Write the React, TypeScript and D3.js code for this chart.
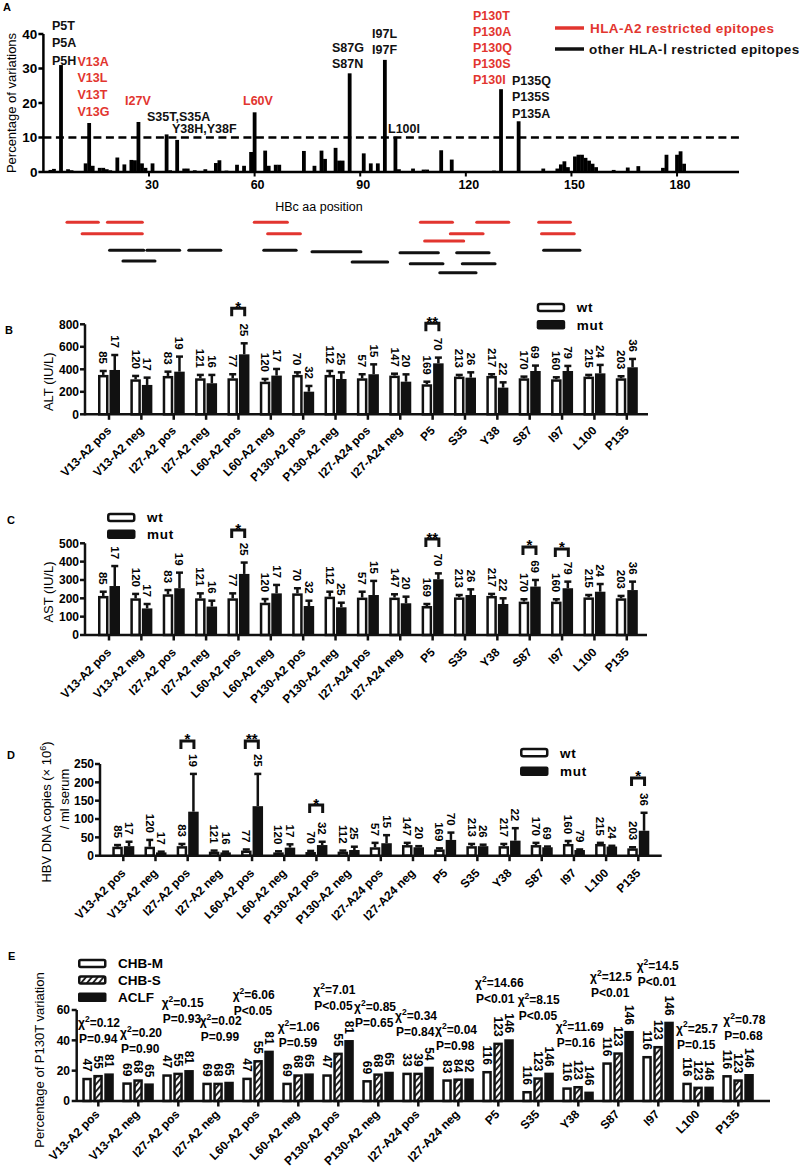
import React from "react";
import * as d3 from "d3";

const FF = "'Liberation Sans', Arial, Helvetica, sans-serif";
const RED = "#e2352f";

// ---------------- Panel A data ----------------
// [HBc aa position, percentage of variations]
const variationData: [number, number][] = [
  [1, 0.3], [2, 0.6], [3, 0.9], [5, 31], [7, 0.8], [8, 0.5], [12, 2.5], [13, 14.2], [14, 1.8],
  [16, 1.2], [17, 1.2], [18, 0.8], [19, 0.5], [21, 4.2], [23, 2.2], [25, 3.5], [26, 3.4],
  [27, 14.5], [28, 2.5], [29, 1.2], [31, 2.5], [35, 10.9], [36, 0.5], [38, 9.3], [40, 1],
  [41, 1], [43, 0.5], [46, 0.8], [49, 2.6], [50, 3.4], [52, 0.4], [55, 2.1], [57, 1.8],
  [59, 5.8], [60, 17.3], [63, 6.2], [64, 1.8], [66, 2.1], [67, 2.1], [74, 6.1], [77, 1.8],
  [79, 6.2], [80, 3.8], [83, 7], [84, 3.3], [85, 3.3], [87, 28.6], [91, 5.4], [93, 2.5],
  [95, 2.5], [97, 32.5], [100, 10.2], [101, 0.8], [105, 1], [108, 0.7], [109, 0.7],
  [113, 6.3], [116, 3.6], [118, 0.3], [128, 0.4], [130, 24], [135, 14.7], [142, 1],
  [146, 1], [147, 2.2], [148, 3.1], [149, 1.4], [151, 4.5], [152, 5], [153, 5], [154, 4.1],
  [155, 3.3], [156, 2.4], [157, 1.4], [162, 0.6], [166, 1.3], [169, 1.7], [176, 1.2],
  [177, 5], [180, 5], [181, 6], [182, 2.4],
];
const aTicksY = [0, 10, 20, 30, 40];
const aTicksX = [30, 60, 90, 120, 150, 180];
const threshold = 10;

// mutation labels: lines, colour
const mutLabels: { lines: string[]; red: boolean }[] = [
  { lines: ["P5T", "P5A", "P5H"], red: false },
  { lines: ["V13A", "V13L", "V13T", "V13G"], red: true },
  { lines: ["I27V"], red: true },
  { lines: ["S35T,S35A"], red: false },
  { lines: ["Y38H,Y38F"], red: false },
  { lines: ["L60V"], red: true },
  { lines: ["S87G", "S87N"], red: false },
  { lines: ["I97L", "I97F"], red: false },
  { lines: ["L100I"], red: false },
  { lines: ["P130T", "P130A", "P130Q", "P130S", "P130I"], red: true },
  { lines: ["P135Q", "P135S", "P135A"], red: false },
];
// layout of those labels (x start, first line centre y, line step)
const mutLabelLayout: [number, number, number][] = [
  [52, 25, 17.5], [77.5, 61, 16.7], [125, 100, 0], [147, 116.5, 0], [172, 128.5, 0],
  [243, 100, 0], [332, 47, 16], [372, 33, 16.5], [388, 128, 0], [473, 15, 16], [512, 80, 16.5],
];

// epitope segments [start aa, end aa, row]
const a2Epitopes: [number, number, number][] = [
  [6.7, 15.6, 0], [18.2, 28.1, 0], [59.9, 69.3, 0], [107.1, 116.2, 0], [123.1, 132.2, 0], [140.7, 149.7, 0],
  [11, 28.1, 1], [63.7, 73, 1], [115.6, 124.9, 1], [141.5, 150.8, 1],
  [108.3, 119.4, 2],
];
const otherEpitopes: [number, number, number][] = [
  [18.8, 28.5, 0], [29.4, 38.7, 0], [41.3, 50.4, 0], [62.6, 71.8, 0], [142.1, 152.4, 0],
  [76.3, 90.2, 1], [101.3, 112.2, 2], [117.4, 126.6, 2],
  [22.6, 31.7, 3], [87.7, 97.8, 4], [104.2, 113.5, 5], [119, 128.3, 5],
  [112.6, 122.9, 6],
];
const a2RowY = [222.3, 233.7, 241];
const otherRowY = [250.3, 251.7, 252.7, 261, 262, 263.7, 272.7];

// ---------------- Panels B-E data ----------------
const categories = [
  "V13-A2 pos", "V13-A2 neg", "I27-A2 pos", "I27-A2 neg", "L60-A2 pos", "L60-A2 neg",
  "P130-A2 pos", "P130-A2 neg", "I27-A24 pos", "I27-A24 neg", "P5", "S35", "Y38", "S87",
  "I97", "L100", "P135",
];
const nWt = [85, 120, 83, 121, 77, 120, 70, 112, 57, 147, 169, 213, 217, 170, 160, 215, 203];
const nMut = [17, 17, 19, 16, 25, 17, 32, 25, 15, 20, 70, 26, 22, 69, 79, 24, 36];

const altWt = [350, 311, 341, 320, 320, 290, 350, 350, 320, 344, 267, 335, 341, 320, 311, 335, 320];
const altWtErr = [385, 341, 379, 350, 356, 314, 373, 385, 356, 361, 290, 350, 356, 335, 329, 350, 338];
const altMut = [394, 261, 379, 276, 533, 344, 201, 314, 356, 290, 453, 326, 237, 385, 385, 364, 418];
const altMutErr = [527, 326, 513, 350, 631, 403, 252, 373, 444, 355, 504, 373, 284, 433, 430, 439, 492];
const altTicks = [0, 200, 400, 600, 800];
const altSig: [string, string, number][] = [["L60-A2 pos", "*", 942], ["P5", "**", 809]];

const astWt = [213, 200, 222, 200, 200, 176, 227, 209, 204, 204, 158, 205, 213, 182, 182, 205, 200];
const astWtErr = [236, 224, 245, 227, 227, 196, 255, 236, 236, 222, 169, 218, 224, 195, 195, 218, 213];
const astMut = [267, 145, 255, 155, 333, 227, 158, 151, 218, 173, 304, 218, 169, 264, 255, 236, 245];
const astMutErr = [376, 169, 340, 187, 395, 273, 187, 176, 295, 209, 336, 249, 200, 300, 291, 278, 291];
const astTicks = [0, 100, 200, 300, 400, 500];
const astSig: [string, string, number][] = [["L60-A2 pos", "*", 572], ["P5", "**", 523], ["S87", "*", 480], ["I97", "*", 469]];

const dnaWt = [24.5, 24.5, 26, 11, 14, 9, 10, 11, 23, 29, 17, 26, 26, 29, 32, 32, 20];
const dnaWtErr = [29, 43, 32, 14, 17, 12, 13, 14, 35, 35, 20, 32, 32, 35, 40, 35, 23];
const dnaMut = [26, 9, 120, 9, 135, 22, 29, 15.5, 34, 23, 43, 26, 41, 23, 15.5, 25, 68];
const dnaMutErr = [38, 11, 223, 11, 223, 31, 38, 24.5, 56, 26, 63, 30, 75, 25, 17, 27, 117];
const dnaTicks = [0, 50, 100, 150, 200, 250];
const dnaSig: [string, string, number][] = [["I27-A2 pos", "*", 313], ["L60-A2 pos", "**", 313], ["P130-A2 pos", "*", 138], ["P135", "*", 212]];

const groupsE = ["CHB-M", "CHB-S", "ACLF"];
const pctM = [15.3, 12.3, 17.6, 12.1, 15.4, 12.1, 17.6, 13.8, 18.7, 14.3, 19.8, 6.6, 9, 25.5, 29.7, 12.1, 17.1];
const pctS = [17.2, 14.3, 18.7, 12.1, 27, 17.6, 31.9, 18.2, 18.7, 14.9, 38.5, 15.6, 9.9, 32.1, 36.3, 9.5, 14.3];
const pctA = [18.2, 11.6, 20.4, 12.7, 33.2, 18.2, 40.2, 19.3, 22.6, 14.9, 40.7, 18.7, 6.2, 46.2, 52.3, 9.5, 17.8];
const nM = [47, 69, 47, 69, 47, 69, 47, 69, 33, 83, 116, 116, 116, 116, 116, 116, 116];
const nS = [55, 68, 55, 68, 55, 68, 55, 68, 39, 84, 123, 123, 123, 123, 123, 123, 123];
const nA = [81, 65, 81, 65, 81, 65, 81, 65, 54, 92, 146, 146, 146, 146, 146, 146, 146];
const chiSq = ["0.12", "0.20", "0.15", "0.02", "6.06", "1.06", "7.01", "0.85", "0.34", "0.04", "14.66", "8.15", "11.69", "12.5", "14.5", "25.7", "0.78"];
const pText = ["P=0.94", "P=0.90", "P=0.93", "P=0.99", "P<0.05", "P=0.59", "P<0.05", "P=0.65", "P=0.84", "P=0.98", "P<0.01", "P<0.05", "P=0.16", "P<0.01", "P<0.01", "P=0.15", "P=0.68"];
// annotation layout: x offset from category centre, y of chi line
const chiLayout: [number, number][] = [
  [-20.3, 1022.7], [-18.3, 1032.7], [-16.6, 1002.7], [-18.6, 1021], [-25.6, 995], [-20.6, 1026.7],
  [-25, 990], [-24.3, 1007], [-23.3, 1015.7], [-23.3, 1030], [-23.3, 982.7], [-20.6, 1000],
  [-22.6, 1026.7], [-28.3, 976.7], [-21.6, 966], [-22.3, 1028.3], [-15, 1020],
];
const eTicks = [0, 20, 40, 60];

// ---------------------------------------------------------------
const bold = { fontFamily: FF, fontWeight: 700 } as const;

function PanelA() {
  const x = d3.scaleLinear().domain([0, 197.6]).range([43.4, 739]);
  const y = d3.scaleLinear().domain([0, 40]).range([172, 34]);
  return (
    <g>
      <text x={3} y={10.5} fontSize={11} {...bold}>A</text>
      {variationData.map(([p, v]) => (
        <rect key={p} x={x(p) - 1.9} y={y(v)} width={3.8} height={y(0) - y(v)} fill="#000" />
      ))}
      <line x1={x(0)} x2={x(197.6)} y1={y(threshold)} y2={y(threshold)} stroke="#000" strokeWidth={2.5} strokeDasharray="8 4.5" />
      <line x1={x(0)} x2={x(197.6)} y1={y(0)} y2={y(0)} stroke="#000" strokeWidth={2.5} />
      <line x1={x(0)} x2={x(0)} y1={y(0) + 1} y2={y(40)} stroke="#000" strokeWidth={2.5} />
      {aTicksY.map((t) => (
        <g key={t}>
          <line x1={x(0) - 5} x2={x(0)} y1={y(t)} y2={y(t)} stroke="#000" strokeWidth={2.5} />
          <text x={x(0) - 6} y={y(t)} dy="0.36em" textAnchor="end" fontSize={13.5} {...bold}>{t}</text>
        </g>
      ))}
      {aTicksX.map((t) => (
        <g key={t}>
          <line x1={x(t)} x2={x(t)} y1={y(0)} y2={y(0) + 4.5} stroke="#000" strokeWidth={2} />
          <text x={x(t) + 3} y={189} textAnchor="middle" fontSize={12.5} {...bold}>{t}</text>
        </g>
      ))}
      <text transform={`translate(16,${103}) rotate(-90)`} textAnchor="middle" fontSize={13} fontFamily={FF}>Percentage of variations</text>
      <text x={319} y={210.5} textAnchor="middle" fontSize={12.5} fontFamily={FF}>HBc aa position</text>
      {mutLabels.map((m, i) => {
        const [lx, ly, step] = mutLabelLayout[i];
        return m.lines.map((s, j) => (
          <text key={i + "-" + j} x={lx} y={ly + j * step} dy="0.36em" fontSize={12.5} {...bold} fill={m.red ? RED : "#111"}>{s}</text>
        ));
      })}
      {/* legend */}
      <line x1={555} x2={584} y1={28} y2={28} stroke={RED} strokeWidth={3.5} />
      <text x={590} y={28} dy="0.36em" fontSize={13.5} {...bold} fill={RED} letterSpacing={0.4}>HLA-A2 restricted epitopes</text>
      <line x1={555} x2={584} y1={49} y2={49} stroke="#111" strokeWidth={3.5} />
      <text x={589} y={49} dy="0.36em" fontSize={13.5} {...bold} fill="#111" letterSpacing={0.4}>other HLA-Ⅰ restricted epitopes</text>
      {/* epitopes */}
      {a2Epitopes.map(([s, e, r], i) => (
        <line key={"r" + i} x1={x(s)} x2={x(e)} y1={a2RowY[r]} y2={a2RowY[r]} stroke={RED} strokeWidth={3} strokeLinecap="round" />
      ))}
      {otherEpitopes.map(([s, e, r], i) => (
        <line key={"b" + i} x1={x(s)} x2={x(e)} y1={otherRowY[r]} y2={otherRowY[r]} stroke="#111" strokeWidth={3} strokeLinecap="round" />
      ))}
    </g>
  );
}

type WMProps = {
  letter: string;
  letterY: number;
  axisX: number;
  axisEnd: number;
  catRange: [number, number];
  yRange: [number, number];
  max: number;
  ticks: number[];
  wt: number[];
  wtErr: number[];
  mut: number[];
  mutErr: number[];
  sig: [string, string, number][];
  legend: [number, number, number];
  ylabel: React.ReactNode;
  labelOffset: number;
};

function Legend2({ x, y1, y2 }: { x: number; y1: number; y2: number }) {
  return (
    <g>
      <rect x={x + 1.25} y={y1 - 3.6} width={26} height={7.2} rx={2} fill="#fff" stroke="#111" strokeWidth={2.5} />
      <rect x={x} y={y2 - 4.8} width={28.5} height={9.6} rx={2} fill="#111" />
      <text x={x + 40} y={y1} dy="0.36em" fontSize={13.5} {...bold} letterSpacing={0.8}>wt</text>
      <text x={x + 40} y={y2} dy="0.36em" fontSize={13.5} {...bold} letterSpacing={0.8}>mut</text>
    </g>
  );
}

function WtMutPanel(p: WMProps) {
  const x = d3.scalePoint<string>().domain(categories).range(p.catRange);
  const y = d3.scaleLinear().domain([0, p.max]).range(p.yRange);
  const y0 = y(0);
  const bw = 10.5;
  const bars = categories.map((c, i) => {
    const cx = x(c)!;
    return { c, i, cx, wx: cx - 11, mx: cx + 0.5 };
  });
  return (
    <g>
      <text x={p.letter === "B" ? 5 : 7} y={p.letterY} fontSize={11} {...bold}>{p.letter}</text>
      {bars.map(({ c, i, cx, wx, mx }) => {
        const wTop = y(p.wt[i]);
        const wE = y(p.wtErr[i]);
        const mTop = y(p.mut[i]);
        const mE = y(p.mutErr[i]);
        const wc = wx + bw / 2;
        const mc = mx + bw / 2;
        return (
          <g key={c}>
            <line x1={wc} x2={wc} y1={wTop} y2={wE} stroke="#111" strokeWidth={2.5} />
            <line x1={wc - 3.5} x2={wc + 3.5} y1={wE} y2={wE} stroke="#111" strokeWidth={2.5} />
            <rect x={wx + 1.25} y={wTop + 1.25} width={bw - 2.5} height={Math.max(0, y0 - wTop - 1.25)} fill="#fff" stroke="#111" strokeWidth={2.5} />
            <line x1={mc} x2={mc} y1={mTop} y2={mE} stroke="#111" strokeWidth={2.5} />
            <line x1={mc - 3.5} x2={mc + 3.5} y1={mE} y2={mE} stroke="#111" strokeWidth={2.5} />
            <rect x={mx} y={mTop} width={bw} height={y0 - mTop} fill="#111" />
            <text transform={`translate(${wc - 4},${wE - 7}) rotate(90)`} textAnchor="end" fontSize={11.5} {...bold}>{nWt[i]}</text>
            <text transform={`translate(${mc - 4},${mE - 7}) rotate(90)`} textAnchor="end" fontSize={11.5} {...bold}>{nMut[i]}</text>
            <line x1={cx} x2={cx} y1={y0} y2={y0 + 5.5} stroke="#111" strokeWidth={2.5} />
            <text transform={`translate(${cx + 3},${y0 + p.labelOffset}) rotate(-45)`} textAnchor="end" fontSize={12} {...bold}>{c}</text>
          </g>
        );
      })}
      <line x1={p.axisX} x2={p.axisEnd} y1={y0} y2={y0} stroke="#111" strokeWidth={2.5} />
      <line x1={p.axisX} x2={p.axisX} y1={y0 + 1} y2={y(p.max)} stroke="#111" strokeWidth={2.5} />
      {p.ticks.map((t) => (
        <g key={t}>
          <line x1={p.axisX - 5} x2={p.axisX} y1={y(t)} y2={y(t)} stroke="#111" strokeWidth={2.5} />
          <text x={p.axisX - 6} y={y(t)} dy="0.36em" textAnchor="end" fontSize={12} {...bold}>{t}</text>
        </g>
      ))}
      {p.sig.map(([c, s, lvl]) => {
        const cx = x(c)! - 0.25;
        const by = y(lvl);
        return (
          <g key={c}>
            <path d={`M${cx - 6.5},${by + 8}V${by}H${cx + 6.5}V${by + 8}`} fill="none" stroke="#111" strokeWidth={3} />
            <text x={cx} y={by + 3.5} textAnchor="middle" fontSize={15} {...bold}>{s}</text>
          </g>
        );
      })}
      <Legend2 x={p.legend[0]} y1={p.legend[1]} y2={p.legend[2]} />
      {p.ylabel}
    </g>
  );
}

function PanelE() {
  const x = d3.scalePoint<string>().domain(categories).range([98.3, 738.3]);
  const y = d3.scaleLinear().domain([0, 60]).range([1101, 1010]);
  const y0 = y(0);
  const series = [pctM, pctS, pctA];
  const ns = [nM, nS, nA];
  const offs = [-16, -5, 6];
  const bw = 9.5;
  const fills = ["#fff", "url(#hatch)", "#111"];
  return (
    <g>
      <text x={8} y={960} fontSize={11} {...bold}>E</text>
      {categories.map((c, i) => {
        const cx = x(c)!;
        const [dx, cy] = chiLayout[i];
        return (
          <g key={c}>
            {series.map((s, k) => {
              const bx = cx + offs[k];
              const top = y(s[i]);
              const isBlack = k === 2;
              return (
                <g key={k}>
                  {isBlack ? (
                    <rect x={bx} y={top} width={bw} height={y0 - top} fill="#111" />
                  ) : (
                    <rect x={bx + 1.25} y={top + 1.25} width={bw - 2.5} height={y0 - top - 1.25} fill={fills[k]} stroke="#111" strokeWidth={2.5} />
                  )}
                  <text transform={`translate(${bx + bw / 2 - 4.3},${top - 6}) rotate(90)`} textAnchor="end" fontSize={12} {...bold}>{ns[k][i]}</text>
                </g>
              );
            })}
            <line x1={cx} x2={cx} y1={y0} y2={y0 + 5.5} stroke="#111" strokeWidth={2.5} />
            <text transform={`translate(${cx + 2},${y0 + 14}) rotate(-45)`} textAnchor="end" fontSize={12} {...bold}>{c}</text>
            <text x={cx + dx} y={cy} dy="0.36em" fontSize={12} {...bold}>
              χ<tspan dy={-5.5} fontSize={8.5}>2</tspan><tspan dy={5.5}>={chiSq[i]}</tspan>
            </text>
            <text x={cx + dx + 1} y={cy + 16} dy="0.36em" fontSize={12} {...bold}>{pText[i]}</text>
          </g>
        );
      })}
      <line x1={76.7} x2={770} y1={y0} y2={y0} stroke="#111" strokeWidth={2.5} />
      <line x1={76.7} x2={76.7} y1={y0 + 1} y2={y(60)} stroke="#111" strokeWidth={2.5} />
      {eTicks.map((t) => (
        <g key={t}>
          <line x1={71.7} x2={76.7} y1={y(t)} y2={y(t)} stroke="#111" strokeWidth={2.5} />
          <text x={70} y={y(t)} dy="0.36em" textAnchor="end" fontSize={12} {...bold}>{t}</text>
        </g>
      ))}
      {groupsE.map((g, k) => {
        const ly = [963.5, 980, 997.3][k];
        return (
          <g key={g}>
            {k === 2 ? (
              <rect x={78} y={ly - 4.7} width={28.5} height={9.4} rx={1.5} fill="#111" />
            ) : (
              <rect x={79.25} y={ly - 3.5} width={26} height={7} rx={1.5} fill={fills[k]} stroke="#111" strokeWidth={2.5} />
            )}
            <text x={118} y={ly} dy="0.36em" fontSize={13.5} fontFamily={FF} fontWeight={600}>{g}</text>
          </g>
        );
      })}
      <text transform="translate(44,1060) rotate(-90)" textAnchor="middle" fontSize={13} fontFamily={FF}>Percentage of P130T variation</text>
    </g>
  );
}

export default function App() {
  return (
    <svg width={799} height={1168} viewBox="0 0 799 1168" style={{ position: "absolute", left: 0, top: 0, background: "#fff" }}>
      <defs>
        <pattern id="hatch" patternUnits="userSpaceOnUse" width={4.5} height={4.5} patternTransform="rotate(40)">
          <rect width={4.5} height={4.5} fill="#fff" />
          <line x1={1} y1={0} x2={1} y2={4.5} stroke="#111" strokeWidth={1.8} />
        </pattern>
      </defs>
      <rect width={799} height={1168} fill="#fff" />
      <PanelA />
      <WtMutPanel
        letter="B" letterY={334} axisX={85} axisEnd={648} catRange={[109, 626.8]} yRange={[414.3, 324.3]}
        max={800} ticks={altTicks} wt={altWt} wtErr={altWtErr} mut={altMut} mutErr={altMutErr} sig={altSig}
        legend={[536.7, 307.5, 324.7]} labelOffset={17}
        ylabel={<text transform="translate(53,381.7) rotate(-90)" textAnchor="middle" fontSize={13} fontFamily={FF}>ALT (IU/L)</text>}
      />
      <WtMutPanel
        letter="C" letterY={524} axisX={85} axisEnd={647} catRange={[109, 626.8]} yRange={[635, 543.3]}
        max={500} ticks={astTicks} wt={astWt} wtErr={astWtErr} mut={astMut} mutErr={astMutErr} sig={astSig}
        legend={[107, 517.5, 534.3]} labelOffset={18}
        ylabel={<text transform="translate(53,592) rotate(-90)" textAnchor="middle" fontSize={13} fontFamily={FF}>AST (IU/L)</text>}
      />
      <WtMutPanel
        letter="D" letterY={758.5} axisX={100} axisEnd={661.7} catRange={[123.3, 638.3]} yRange={[855.7, 764]}
        max={250} ticks={dnaTicks} wt={dnaWt} wtErr={dnaWtErr} mut={dnaMut} mutErr={dnaMutErr} sig={dnaSig}
        legend={[520, 752.7, 771.3]} labelOffset={18}
        ylabel={
          <g>
            <text transform="translate(51,812) rotate(-90)" textAnchor="middle" fontSize={13} fontFamily={FF}>
              HBV DNA copies (× 10<tspan dy={-5} fontSize={9}>6</tspan><tspan dy={5}>)</tspan>
            </text>
            <text transform="translate(69,799) rotate(-90)" textAnchor="middle" fontSize={13} fontFamily={FF}>/ ml serum</text>
          </g>
        }
      />
      <PanelE />
    </svg>
  );
}
